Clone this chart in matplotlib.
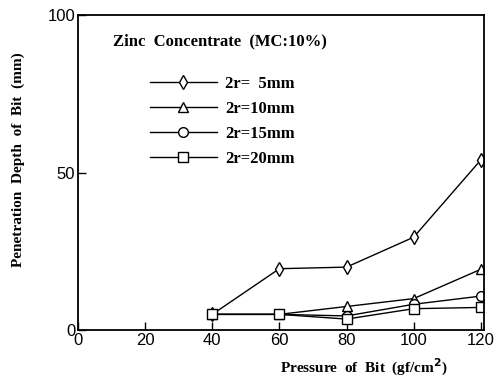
import matplotlib
matplotlib.use('Agg')
import matplotlib.pyplot as plt

# pressure of bit (gf/cm2)
pressure = [40, 60, 80, 100, 120]
# penetration depth (mm) for each bit diameter
depth_5 = [5, 19.5, 20, 29.5, 54]
depth_10 = [5, 5, 7.5, 10, 19.3]
depth_15 = [5, 5, 4.5, 8.2, 10.8]
depth_20 = [5, 5, 3.5, 6.8, 7.2]
labels = ['2r=  5mm', '2r=10mm', '2r=15mm', '2r=20mm']

serif = {'family': 'Liberation Serif', 'weight': 'bold'}

fig = plt.figure(figsize=(4.94, 3.79), dpi=100)
ax = fig.add_axes([0.158, 0.129, 0.822, 0.831])

markers = ['d', '^', 'o', 's']
series = [depth_5, depth_10, depth_15, depth_20]
for vals, mk, lab in zip(series, markers, labels):
    ax.plot(pressure, vals, color='black', lw=1.0, marker=mk, ms=7,
            mfc='white', mec='black', mew=1.0, label=lab)

ax.set_xlim(0, 121)
ax.set_ylim(0, 100)
ax.set_xticks([0, 20, 40, 60, 80, 100, 120])
ax.set_yticks([0, 50, 100])
ax.tick_params(direction='in', length=6, width=1, labelsize=12, pad=2)
for t in ax.get_xticklabels() + ax.get_yticklabels():
    t.set_family('Liberation Sans')
for s in ax.spines.values():
    s.set_linewidth(1.3)

ax.text(0.085, 0.905, 'Zinc  Concentrate  (MC:10%)', transform=ax.transAxes,
        fontsize=12, **serif)

leg = ax.legend(loc='upper left', bbox_to_anchor=(0.14, 0.855), frameon=False,
                handlelength=4.0, labelspacing=0.55, handletextpad=0.5,
                prop={'family': 'Liberation Serif', 'weight': 'bold', 'size': 12})

ax.set_ylabel('Penetration  Depth  of  Bit  (mm)', fontsize=11, **serif)
ax.yaxis.set_label_coords(-0.13, 0.54)
ax.set_xlabel('Pressure  of  Bit  (gf/cm$^\\mathbf{2}$)', fontsize=11, **serif)
ax.xaxis.set_label_coords(0.705, -0.085)

fig.savefig('out.png', dpi=100)
